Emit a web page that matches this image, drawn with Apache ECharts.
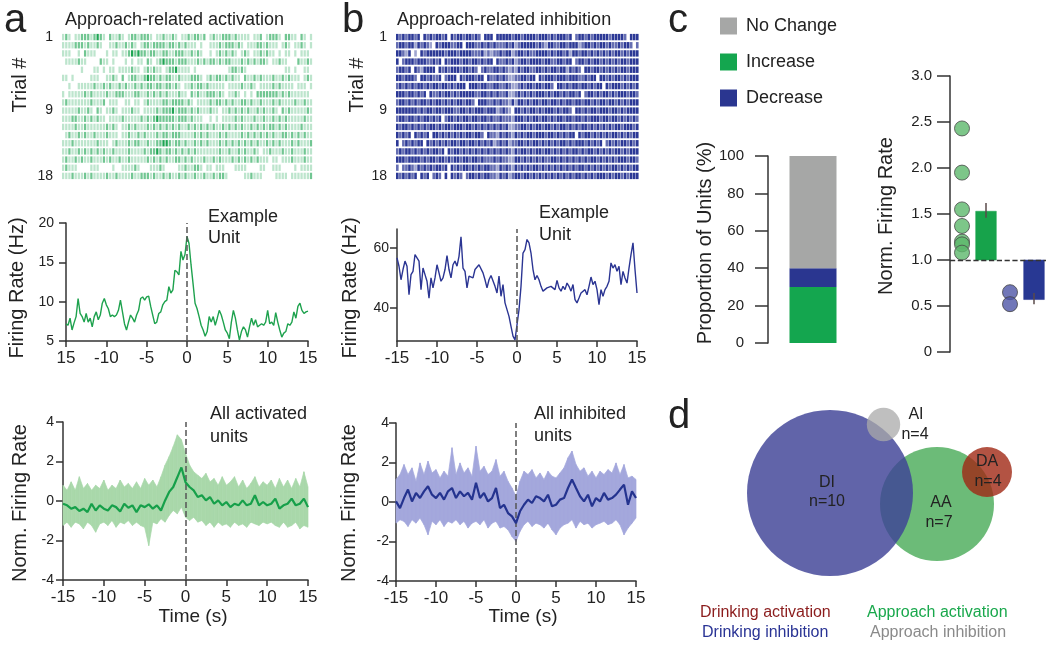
<!DOCTYPE html>
<html><head><meta charset="utf-8">
<script src="https://cdn.jsdelivr.net/npm/echarts@6/dist/echarts.min.js"></script>
<style>html,body{margin:0;padding:0;background:#fff}#c{width:1050px;height:647px}</style>
</head><body><div id="c"></div>
<script>
const FONT = "'Liberation Sans', Arial, Helvetica, sans-serif";

// ---------------- DATA ----------------
const xTicks = [-15, -10, -5, 0, 5, 10, 15];
const xTickLabelsExampleA = ['15', '-10', '-5', '0', '5', '10', '15'];
const xTickLabels = ['-15', '-10', '-5', '0', '5', '10', '15'];
const trialTickPos = [1, 9.9, 18];
const trialTickLabels = ['1', '9', '18'];

// raster rows (bins across -15..15 s), 0 = no spike, 1..3 = spike density
const rasterActivation = [
"1210112221 2321021121 0122122210 1121121011 2122120121 1222121111 0112012221 0221102101",
"1111222121 1210011211 2121012212 2221221212 1110100111 2122212101 1122121110 1210112101",
"1110010211 1000101101 1232322122 1122112221 1212100101 2121210121 0112121101 0110101110",
"0111121100 0021101000 1010110210 1232221222 1112121221 2122111212 1212210112 1100021121",
"0000001000 1101011011 1121101212 1101223111 1010000000 0001221210 0000000000 0110100110",
"1101000001 1100112102 0122112322 1212211211 1222101212 2121211021 1212111211 2121110121",
"0010011111 2112121121 2112121221 2212212101 1212212111 1101111211 2101111212 1111011101",
"1011111212 1111211222 1112211212 1212111211 0212112221 2101121010 1022222221 2121111110",
"1211111112 1112011100 1101101211 1122122221 2101111212 2121211221 2112111212 1111211211",
"1111121121 0210112101 1121101111 2122231222 1212111211 0112121212 1121211210 2121111121",
"1112211212 1211011112 1111121212 3222221222 1211100101 0111121211 1211211212 1211111211",
"1111211211 1111212101 1212111212 1212121211 2121212121 1212121211 2121212212 1211112111",
"0121121211 2111211101 1211212111 2122122211 1121212111 2121111212 1212121211 2212121211",
"1112111111 1211101211 1212211211 2233212212 1121212111 2121212121 2121121212 1112121112",
"1121121212 1212112111 1211112122 3212212121 2121111111 2112112121 1210112111 2112111211",
"1211212112 1112121121 1211111212 1212112212 1211121121 2111212121 2121110110 1112111211",
"1211100001 1100001001 1112100011 1210000112 1122101101 1100011110 0001100111 0000101111",
"1112111212 1111211211 1121122212 1121211212 1121121121 2210000011 2111000011 1101111112"
];
const rasterInhibition = [
"3232332303 2323323032 3323323203 3303333323 3233332333 2323332302 3323233333 2333320333",
"2332331323 2103233322 3303332232 3232223231 2333332321 3322332333 1233232332 3223233202",
"3321301032 3333332333 2333322231 2122323312 3323223333 2323323133 2332323232 3233232333",
"3023332333 2232303233 3233233232 3303223231 2332333323 3223323302 3323233232 3232332333",
"2332303213 3330323233 3233232023 2233232121 3233223323 2332331323 2033233232 3232332333",
"3323332033 2322302333 0323332330 3223232112 2332330323 3323332333 2232330332 3233232333",
"2323232332 3233233232 3330333233 2233223211 2323323323 3203323233 2332323303 2333232323",
"3332332323 0322323323 2333332233 2323223112 3232323332 3233232332 3023323233 2323332332",
"2332323233 2323323232 3323320333 2232322131 3323233233 2332323323 3233232332 3323232333",
"3333333232 3323323332 2332323332 3331232103 3232332323 3323233203 3232332333 2332323333",
"2332332323 3232302332 3233233233 2322322213 3323233233 2323323323 3232333233 2332323232",
"3233232323 2332323323 3323323232 3232323112 2332323323 3232332323 2332323232 3233233323",
"3232303232 3033232323 2323323320 3221323213 2323323332 3323232330 3233232323 2332323233",
"3023232330 3232323233 2332332323 2312323122 3323233232 3232332323 3323232302 3232332323",
"2323323232 3233230323 3232323232 3232323213 2332323323 3232323233 2323323232 3233232333",
"3332333323 2332332323 3233233232 2232322113 3232323232 2332323232 3232332323 2323332332",
"2022321323 2323323032 3233232323 3221323213 2323233232 3232323232 3323232323 2332323233",
"3232323032 3023203032 3202332323 3221323123 3233232323 2323232323 3232323332 3233232333"
];

// example units, firing rate (Hz), sampled every 0.25 s from -15 s
const exampleStart = -15, exampleStep = 0.25;
const exampleActivation = [7.2,7.0,7.9,6.4,7.3,8.1,10.4,8.5,8.1,7.4, 8.5,7.4,7.9,6.8,8.1,8.7,7.7,8.3,9.8,10.4,
 9.6,9.1,8.1,8.3,8.1,8.3,8.9,10.2,8.7,7.2, 6.4,7.4,8.3,7.9,7.4,8.3,8.9,10.4,10.6,10.2,
 10.6,10.7,9.4,8.3,7.2,7.4,8.5,8.7,9.6,10.0, 10.2,11.9,11.1,11.5,14.0,13.8,13.4,16.4,15.3,16.0,
 18.3,17.4,14.7,12.3,9.8,9.1,8.1,7.0,6.4,5.6, 6.2,8.1,7.4,8.1,7.0,7.9,8.9,8.3,7.4,6.4,
 6.0,5.3,7.4,8.9,7.9,6.4,5.1,6.2,6.8,6.4, 5.5,6.8,7.9,7.0,7.7,6.8,7.0,7.2,7.0,7.4,
 8.9,7.2,7.4,7.0,8.6,7.4,6.4,5.5,6.0,6.2, 7.2,7.0,7.4,8.7,7.9,9.4,9.8,8.9,8.5,8.7,8.8];
const exampleInhibition = [56.7,53.9,49.4,52.8,55.6,53.9,44.4,51.1,52.2,57.8, 57.2,55.6,46.1,53.3,51.1,48.9,43.3,50,46.7,50,
 54.4,51.7,48.9,50,52.8,57.4,52.8,50,54.4,55.6, 53.9,57.2,63.7,53.3,52.2,46.7,50.6,51.1,50,52.8,
 53,54.4,54.1,51.7,49.4,46.7,49.4,50.8,51.1,47.2, 45,50.6,43.9,47.8,41.7,41.1,37.2,33.9,30.6,29.4,
 29.3,39.4,47.2,58.3,59.4,62.8,61.7,58.3,52.8,49.4, 50.8,49.4,47.2,45.6,46.1,46.7,47.2,47.2,47.8,46.1,
 49.2,46.7,45.6,47.2,46.1,48.3,47.2,45.6,47.8,42.8, 41.7,43.3,45,45.6,46.1,44.4,47.2,50.3,47.8,48.9,
 46.1,41.1,46.1,43.9,46.1,47.2,48.9,55,53.3,54.4, 52.2,53.9,47.8,52.2,50,48.3,53.3,57.8,61.7,52.8,45];

// population norm. firing rate, sampled every 0.5 s from -15 s
const popStart = -15, popStep = 0.5;
const meanActivated = [-0.14,-0.22,-0.39,-0.31,-0.51,-0.39,-0.56,-0.14,-0.48,-0.22, -0.39,-0.48,-0.22,-0.31,-0.53,-0.14,-0.34,-0.22,-0.56,-0.22,
 -0.31,-0.17,-0.39,-0.22,-0.48,0.03,0.46,0.71,1.20,1.70, 0.95,0.71,0.54,0.20,0.29,0.03,0.20,-0.14,0.03,-0.22,
 -0.05,-0.31,-0.14,-0.22,0.03,-0.22,-0.14,0.29,-0.22,-0.05, -0.22,-0.14,0.12,-0.39,-0.22,-0.14,0.12,-0.22,-0.14,0.12,-0.31];
const upperActivated = [0.80,0.54,0.97,0.54,1.23,0.63,0.89,0.54,0.80,0.63, 1.06,0.54,0.80,0.63,1.06,0.71,0.89,0.63,0.97,0.63,
 1.14,0.80,1.06,0.71,1.23,1.82,2.25,2.76,3.35,3.10, 2.42,1.82,1.48,1.31,1.14,1.40,0.97,1.14,0.80,1.23,
 0.80,0.97,1.23,0.71,1.06,0.63,0.89,1.23,0.71,0.97, 0.80,1.06,0.63,1.14,0.71,1.06,0.63,1.14,0.71,1.48,0.71];
const lowerActivated = [-1.24,-1.07,-1.33,-1.07,-1.16,-1.41,-1.07,-1.24,-1.58,-1.16, -1.07,-1.24,-0.99,-1.33,-1.07,-1.16,-0.99,-1.24,-1.07,-1.24,
 -1.33,-2.26,-1.07,-1.16,-0.90,-1.07,-0.73,-0.48,-0.65,-0.31, -0.82,-0.99,-0.82,-1.07,-0.99,-1.24,-1.07,-1.33,-1.07,-1.24,
 -1.16,-1.33,-1.07,-1.24,-1.16,-1.33,-1.07,-1.16,-1.24,-1.07, -1.16,-1.07,-1.24,-1.33,-1.07,-1.33,-1.24,-1.07,-1.41,-1.24,-1.33];
const meanInhibited = [0.03,-0.31,0.20,0.63,0.03,0.46,0.20,0.54,0.80,0.37, 0.20,0.46,0.12,0.54,0.71,0.20,0.54,0.29,0.46,0.12,
 0.97,0.20,0.46,0.03,0.20,0.71,-0.31,-0.14,-0.56,-0.73, -1.07,-0.47,-0.14,0.12,-0.05,0.29,0.20,0.03,0.37,-0.22,
 -0.14,0.12,0.20,0.71,1.14,0.71,0.29,0.03,0.37,-0.22, 0.20,0.03,0.46,0.12,0.20,0.37,0.63,0.88,-0.14,0.54,0.20];
const upperInhibited = [1.14,1.39,1.90,1.39,1.73,1.05,1.98,1.39,2.07,1.47, 1.64,1.22,1.56,1.31,2.75,1.39,1.98,1.47,1.73,1.31,
 2.83,1.56,1.81,1.39,1.56,2.15,1.31,1.56,1.05,0.71, 0.29,1.05,1.56,1.39,1.64,1.22,1.47,1.14,1.56,1.31,
 1.22,1.47,1.73,2.24,2.58,1.90,1.56,1.73,1.31,1.56, 1.22,1.56,1.39,1.64,1.47,1.98,1.39,1.90,1.22,1.31,1.14];
const lowerInhibited = [-1.07,-0.90,-0.98,-1.24,-0.90,-1.07,-0.81,-1.15,-1.66,-0.98, -1.15,-0.90,-1.24,-0.98,-1.07,-0.90,-1.15,-0.98,-1.32,-1.07,
 -0.98,-1.15,-0.90,-1.32,-1.07,-0.98,-1.32,-1.24,-1.41,-1.75, -2.00,-1.49,-1.15,-0.98,-1.24,-1.07,-1.15,-1.32,-1.07,-1.41,
 -1.66,-1.32,-1.15,-1.07,-0.90,-1.32,-0.98,-1.15,-1.07,-1.32, -1.15,-1.07,-0.98,-1.15,-1.07,-0.90,-1.15,-1.66,-1.32,-1.07,-0.81];

// panel c
const proportionCategories = ['All units'];
const propIncrease = [30], propDecrease = [10], propNoChange = [60];
const pctTicks = [0, 20, 40, 60, 80, 100];
const normCategories = ['incUnits', 'incMean', 'decUnits', 'decMean'];
const normIncreaseUnits = [2.43, 1.95, 1.55, 1.37, 1.20, 1.17, 1.08];
const normDecreaseUnits = [0.65, 0.52];
const normBars = [ // [category, base, mean, errLow, errHigh]
  ['incMean', 1.0, 1.53, 1.46, 1.62],
  ['decMean', 1.0, 0.57, 0.52, 0.64]
];
const normTickLabels = ['0', '0.5', '1.0', '1.5', '2.0', '2.5', '3.0'];

// panel d venn: [cx, cy, r] in panel units
const vennAA = [267, 134, 57];
const vennDI = [160, 123, 83];
const vennAI = [213.5, 54.5, 16.7];
const vennDA = [317, 102, 25];

// ---------------- HELPERS ----------------
const AX = { color: '#333', width: 1.5 };
function pairs(arr, start, step) { return arr.map((v, i) => [start + i * step, v]); }
function timeX(gi, labels) {
  return { type: 'value', gridIndex: gi, min: -15, max: 15, interval: 5,
    axisLine: { show: true, onZero: false, lineStyle: AX },
    axisTick: { show: true, length: 6, lineStyle: AX },
    axisLabel: { fontSize: 17, color: '#222', fontFamily: FONT, margin: 9, showMinLabel: true, showMaxLabel: true,
      formatter: v => { const k = xTicks.indexOf(v); return k < 0 ? '' : labels[k]; } },
    splitLine: { show: false } };
}
function valY(gi, min, max, extra) {
  return Object.assign({ type: 'value', gridIndex: gi, min, max,
    axisLine: { show: true, onZero: false, lineStyle: AX },
    axisTick: { show: true, length: 7, lineStyle: AX },
    axisLabel: { fontSize: 14, color: '#222', fontFamily: FONT, margin: 9, showMinLabel: true, showMaxLabel: true },
    splitLine: { show: false } }, extra || {});
}
function rasterY(gi) {
  return { type: 'value', gridIndex: gi, min: 0.5, max: 18.5, inverse: true,
    axisLine: { show: false }, axisTick: { show: false }, splitLine: { show: false },
    axisLabel: { customValues: trialTickPos, fontSize: 14, color: '#222', fontFamily: FONT, margin: 9,
      formatter: v => { const k = trialTickPos.indexOf(v); return k < 0 ? '' : trialTickLabels[k]; } } };
}
function rasterSeries(rows, gi, color, fillFrac, alphas) {
  const data = [];
  rows.forEach((s, r) => { const t = s.replace(/ /g, ''); for (let i = 0; i < t.length; i++) { const v = +t[i]; if (v > 0) data.push([i, r + 1, v]); } });
  return { type: 'custom', xAxisIndex: gi, yAxisIndex: gi, data, silent: true, clip: false,
    renderItem(params, api) {
      const b = api.value(0), r = api.value(1), v = api.value(2);
      const p0 = api.coord([b, r - 0.39]), p1 = api.coord([b + 1, r + 0.39]);
      const w = p1[0] - p0[0];
      return { type: 'rect', shape: { x: p0[0], y: Math.min(p0[1], p1[1]), width: w * fillFrac, height: Math.abs(p1[1] - p0[1]) },
        style: { fill: color, opacity: alphas[v] } };
    } };
}
const zeroLine = { symbol: 'none', silent: true, label: { show: false }, lineStyle: { type: 'dashed', color: '#555', width: 1.5 }, data: [{ xAxis: 0 }] };
function band(gi, lo, hi, color) {
  const data = [];
  for (let i = 0; i < lo.length - 1; i++) {
    data.push([popStart + i * popStep, lo[i], hi[i], popStart + (i + 1) * popStep, lo[i + 1], hi[i + 1]]);
  }
  return { type: 'custom', xAxisIndex: gi, yAxisIndex: gi, data, silent: true,
    encode: { x: [0, 3], y: [1, 2, 4, 5] },
    renderItem(params, api) {
      const a = api.coord([api.value(0), api.value(1)]), b = api.coord([api.value(0), api.value(2)]);
      const c = api.coord([api.value(3), api.value(5)]), d = api.coord([api.value(3), api.value(4)]);
      return { type: 'polygon', shape: { points: [a, b, c, d] }, style: { fill: color, stroke: color, lineWidth: 0.7 } };
    } };
}
function txt(x, y, text, size, extra) {
  const st = Object.assign({ text, fontSize: size, fontFamily: FONT, fill: '#222', align: 'left', verticalAlign: 'middle' }, extra || {});
  st.textAlign = st.align; st.textVerticalAlign = st.verticalAlign;
  return { type: 'text', x, y, z: 100, style: st, silent: true };
}
function vtxt(x, y, text, size) {
  return { type: 'text', x, y, z: 100, rotation: Math.PI / 2,
    style: { text, fontSize: size, fontFamily: FONT, fill: '#222', align: 'center', verticalAlign: 'middle', textAlign: 'center', textVerticalAlign: 'middle' }, silent: true };
}
function vennCircle(c, fill) {
  return { type: 'custom', xAxisIndex: 8, yAxisIndex: 8, data: [c], silent: true, clip: false, z: 1,
    renderItem(params, api) {
      const p = api.coord([api.value(0), api.value(1)]);
      const r = api.size([api.value(2), 0])[0];
      return { type: 'circle', shape: { cx: p[0], cy: p[1], r }, style: { fill } };
    } };
}

// ---------------- OPTION ----------------
const chart = echarts.init(document.getElementById('c'), null, { renderer: 'canvas' });
const option = {
  animation: false,
  backgroundColor: '#fff',
  textStyle: { fontFamily: FONT },
  legend: {
    data: ['No Change', 'Increase', 'Decrease'], orient: 'vertical', left: 720, top: 17,
    itemWidth: 17, itemHeight: 17, itemGap: 18, icon: 'rect', padding: 0, selectedMode: false,
    textStyle: { fontSize: 18, color: '#222', fontFamily: FONT, padding: [0, 0, 0, 4] }
  },
  grid: [
    { left: 62, top: 33, width: 251, height: 147 },   // 0 raster a
    { left: 66, top: 223, width: 242, height: 118 },  // 1 example a
    { left: 63, top: 422, width: 245, height: 158 },  // 2 pop a
    { left: 396, top: 33, width: 243, height: 147 },  // 3 raster b
    { left: 397, top: 229, width: 240, height: 112 }, // 4 example b
    { left: 396, top: 423, width: 240, height: 158 }, // 5 pop b
    { left: 768, top: 156, width: 90, height: 187 },  // 6 proportion
    { left: 950, top: 76, width: 96, height: 276 },   // 7 norm rate
    { left: 670, top: 370, width: 380, height: 277 }  // 8 venn
  ],
  xAxis: [
    { type: 'value', gridIndex: 0, min: 0, max: 80, show: false },
    timeX(1, xTickLabelsExampleA),
    timeX(2, xTickLabels),
    { type: 'value', gridIndex: 3, min: 0, max: 80, show: false },
    timeX(4, xTickLabels),
    timeX(5, xTickLabels),
    { type: 'category', gridIndex: 6, data: proportionCategories, show: false },
    { type: 'category', gridIndex: 7, data: normCategories, show: false },
    { type: 'value', gridIndex: 8, min: 0, max: 380, show: false }
  ],
  yAxis: [
    rasterY(0),
    valY(1, 5, 20, { interval: 5, axisLabel: { fontSize: 14, color: '#222', fontFamily: FONT, margin: 12 } }),
    valY(2, -4, 4, { interval: 2 }),
    rasterY(3),
    valY(4, 29, 66.3, { axisLabel: { customValues: [40, 60], fontSize: 14, color: '#222', fontFamily: FONT, margin: 8 },
      axisTick: { show: true, customValues: [40, 60], length: 7, lineStyle: AX } }),
    valY(5, -4, 4, { interval: 2, axisLabel: { fontSize: 14, color: '#222', fontFamily: FONT, margin: 7 } }),
    valY(6, 0, 100, { interval: 20, axisTick: { show: true, length: 13, lineStyle: AX },
      axisLabel: { fontSize: 15, color: '#222', fontFamily: FONT, margin: 24, formatter: v => String(pctTicks[pctTicks.indexOf(v)]) } }),
    valY(7, 0, 3, { interval: 0.5, axisTick: { show: true, length: 13, lineStyle: AX },
      axisLabel: { fontSize: 15, color: '#222', fontFamily: FONT, margin: 18, formatter: v => normTickLabels[Math.round(v * 2)] } }),
    { type: 'value', gridIndex: 8, min: 0, max: 277, inverse: true, show: false }
  ],
  series: [
    rasterSeries(rasterActivation, 0, '#12a04a', 0.72, [0, 0.28, 0.6, 0.95]),
    rasterSeries(rasterInhibition, 3, '#1c2a8e', 0.86, [0, 0.42, 0.68, 0.93]),
    { type: 'line', xAxisIndex: 1, yAxisIndex: 1, data: pairs(exampleActivation, exampleStart, exampleStep), symbol: 'none',
      lineStyle: { color: '#1ea24e', width: 1.4 }, markLine: zeroLine, silent: true },
    { type: 'line', xAxisIndex: 4, yAxisIndex: 4, data: pairs(exampleInhibition, exampleStart, exampleStep), symbol: 'none',
      lineStyle: { color: '#2b3593', width: 1.4 }, markLine: zeroLine, silent: true },
    band(2, lowerActivated, upperActivated, '#a9d8aa'),
    { type: 'line', xAxisIndex: 2, yAxisIndex: 2, data: pairs(meanActivated, popStart, popStep), symbol: 'none',
      lineStyle: { color: '#16a04a', width: 2.2 }, markLine: zeroLine, silent: true, z: 5 },
    band(5, lowerInhibited, upperInhibited, '#a4a8dc'),
    { type: 'line', xAxisIndex: 5, yAxisIndex: 5, data: pairs(meanInhibited, popStart, popStep), symbol: 'none',
      lineStyle: { color: '#24338f', width: 2.2 }, markLine: zeroLine, silent: true, z: 5 },
    { name: 'Increase', type: 'bar', xAxisIndex: 6, yAxisIndex: 6, stack: 'p', data: propIncrease, barWidth: 47, itemStyle: { color: '#14a64f' } },
    { name: 'Decrease', type: 'bar', xAxisIndex: 6, yAxisIndex: 6, stack: 'p', data: propDecrease, barWidth: 47, itemStyle: { color: '#2a3690' } },
    { name: 'No Change', type: 'bar', xAxisIndex: 6, yAxisIndex: 6, stack: 'p', data: propNoChange, barWidth: 47, itemStyle: { color: '#a6a7a6' } },
    { type: 'custom', xAxisIndex: 7, yAxisIndex: 7, data: normBars, silent: true,
      encode: { x: 0, y: [1, 2, 3, 4] },
      renderItem(params, api) {
        const c = api.value(0), base = api.value(1), m = api.value(2), lo = api.value(3), hi = api.value(4);
        const pb = api.coord([c, base]), pm = api.coord([c, m]), pl = api.coord([c, lo]), ph = api.coord([c, hi]);
        const w = api.size([1, 0])[0] * 0.86;
        const fill = m >= base ? '#17a34b' : '#283893';
        return { type: 'group', children: [
          { type: 'rect', shape: { x: pb[0] - w / 2, y: Math.min(pb[1], pm[1]), width: w, height: Math.abs(pm[1] - pb[1]) },
            style: { fill, stroke: fill, lineWidth: 0.5 } },
          { type: 'line', shape: { x1: ph[0], y1: ph[1], x2: pl[0], y2: pl[1] }, style: { stroke: '#5a4a4a', lineWidth: 1.5 } }
        ] };
      },
      markLine: { symbol: 'none', silent: true, label: { show: false }, lineStyle: { type: 'dashed', color: '#333', width: 1.3 }, data: [{ yAxis: 1 }] }
    },
    { type: 'scatter', xAxisIndex: 7, yAxisIndex: 7, data: normIncreaseUnits.map(v => ['incUnits', v]), symbolSize: 15, silent: true,
      itemStyle: { color: '#5db86b', borderColor: '#4a4a4a', borderWidth: 1 } },
    { type: 'scatter', xAxisIndex: 7, yAxisIndex: 7, data: normDecreaseUnits.map(v => ['decUnits', v]), symbolSize: 15, silent: true,
      itemStyle: { color: '#4d55a6', borderColor: '#444', borderWidth: 1 } },
    vennCircle(vennAA, '#6cbb78'),
    vennCircle(vennDI, 'rgba(62,66,150,0.82)'),
    vennCircle(vennAI, 'rgba(170,170,170,0.75)'),
    vennCircle(vennDA, 'rgba(160,40,20,0.8)')
  ],
  graphic: [
    txt(4, 21, 'a', 40), txt(342, 21, 'b', 40), txt(668, 21, 'c', 40), txt(668, 417, 'd', 40),
    txt(65, 20.5, 'Approach-related activation', 18), txt(397, 20.5, 'Approach-related inhibition', 18),
    vtxt(20, 85, 'Trial #', 20), vtxt(357, 85, 'Trial #', 20),
    vtxt(17, 288, 'Firing Rate (Hz)', 20), vtxt(350, 288, 'Firing Rate (Hz)', 20),
    vtxt(20, 503, 'Norm. Firing Rate', 20), vtxt(349, 503, 'Norm. Firing Rate', 20),
    vtxt(705, 243, 'Proportion of Units (%)', 20), vtxt(886, 216, 'Norm. Firing Rate', 20),
    txt(208, 216.6, 'Example', 18), txt(208, 237.6, 'Unit', 18),
    txt(539, 212.6, 'Example', 18), txt(539, 234.6, 'Unit', 18),
    txt(210, 413.6, 'All activated', 18), txt(210, 436.6, 'units', 18),
    txt(534, 413.6, 'All inhibited', 18), txt(534, 435.6, 'units', 18),
    txt(193, 617, 'Time (s)', 19, { align: 'center' }), txt(523, 617, 'Time (s)', 19, { align: 'center' }),
    txt(827, 483, 'DI', 16, { align: 'center' }), txt(827, 502, 'n=10', 16, { align: 'center' }),
    txt(941, 503, 'AA', 16, { align: 'center' }), txt(939, 523, 'n=7', 16, { align: 'center' }),
    txt(916, 415, 'AI', 16, { align: 'center' }), txt(915, 435, 'n=4', 16, { align: 'center' }),
    txt(987, 462, 'DA', 16, { align: 'center' }), txt(988, 482, 'n=4', 16, { align: 'center' }),
    txt(700, 613, 'Drinking activation', 16, { fill: '#8b1c1c' }),
    txt(702, 633, 'Drinking inhibition', 16, { fill: '#2a3495' }),
    txt(867, 613, 'Approach activation', 16, { fill: '#19a84c' }),
    txt(870, 633, 'Approach inhibition', 16, { fill: '#8a8a8a' })
  ]
};
chart.setOption(option);
</script>
</body></html>
